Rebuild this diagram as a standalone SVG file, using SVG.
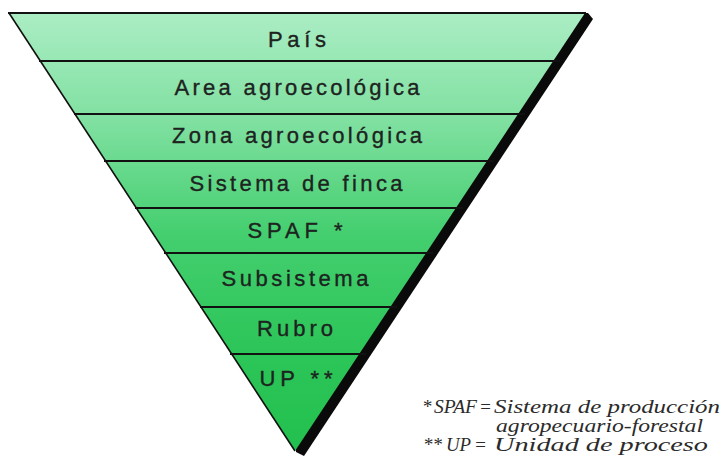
<svg xmlns="http://www.w3.org/2000/svg" width="722" height="456" viewBox="0 0 722 456">
  <defs>
    <!-- shared fill running from pale mint at the top to deep green at the apex -->
    <linearGradient id="greenFade" gradientUnits="userSpaceOnUse" x1="0" y1="13" x2="0" y2="451">
      <stop offset="0" stop-color="#abedc4"/>
      <stop offset="0.25" stop-color="#7fe0a0"/>
      <stop offset="0.5" stop-color="#45cf70"/>
      <stop offset="0.75" stop-color="#2ec65a"/>
      <stop offset="1" stop-color="#22c04e"/>
    </linearGradient>
    <style>
      .band { fill: url(#greenFade); }
      .rule { stroke: #111; stroke-width: 2; fill: none; }
      .edge { stroke: #111; stroke-width: 1.6; fill: none; stroke-linejoin: round; }
      .lbl { font-family: "Liberation Sans", Arial, sans-serif; font-size: 22px; fill: #1d231f; stroke: #1d231f; stroke-width: 0.35px; text-anchor: middle; }
      .note { font-family: "Liberation Serif", "Times New Roman", serif; font-style: italic; font-size: 19px; fill: #2b2b2b; }
    </style>
  </defs>

  <rect width="722" height="456" fill="#ffffff"/>

  <!-- drop shadow along the right side of the funnel -->
  <polygon points="300,13 588,13 593,19 304,456 296,452" fill="#0a0a0a"/>

  <!-- funnel levels, widest at the top -->
  <g id="nivel-pais">
    <polygon class="band" points="9,13 585,13 553.2,61 40.3,61"/>
    <text class="lbl" x="297" y="47" textLength="58">País</text>
  </g>
  <g id="nivel-area">
    <polygon class="band" points="40.3,61 553.2,61 518.1,114 75,114"/>
    <text class="lbl" x="297" y="95" textLength="245">Area agroecológica</text>
  </g>
  <g id="nivel-zona">
    <polygon class="band" points="75,114 518.1,114 487,161 105.6,161"/>
    <text class="lbl" x="297" y="143" textLength="250">Zona agroecológica</text>
  </g>
  <g id="nivel-finca">
    <polygon class="band" points="105.6,161 487,161 455.9,208 136.3,208"/>
    <text class="lbl" x="296" y="191" textLength="213">Sistema de finca</text>
  </g>
  <g id="nivel-spaf">
    <polygon class="band" points="136.3,208 455.9,208 426.1,253 165.7,253"/>
    <text class="lbl" x="295" y="238" textLength="95">SPAF *</text>
  </g>
  <g id="nivel-subsistema">
    <polygon class="band" points="165.7,253 426.1,253 390.3,307 201,307"/>
    <text class="lbl" x="295" y="286" textLength="147">Subsistema</text>
  </g>
  <g id="nivel-rubro">
    <polygon class="band" points="201,307 390.3,307 359.2,354 231.7,354"/>
    <text class="lbl" x="295" y="336" textLength="76">Rubro</text>
  </g>
  <g id="nivel-up">
    <polygon class="band" points="231.7,354 359.2,354 295,451"/>
    <text class="lbl" x="296" y="386" textLength="73">UP **</text>
  </g>

  <!-- level dividers and outline -->
  <g id="connectors">
    <line class="rule" x1="8" y1="13" x2="586" y2="13"/>
    <line class="rule" x1="39" y1="61" x2="560" y2="61"/>
    <line class="rule" x1="74" y1="114" x2="525" y2="114"/>
    <line class="rule" x1="104" y1="161" x2="494" y2="161"/>
    <line class="rule" x1="135" y1="208" x2="463" y2="208"/>
    <line class="rule" x1="164" y1="253" x2="433" y2="253"/>
    <line class="rule" x1="200" y1="307" x2="397" y2="307"/>
    <line class="rule" x1="230" y1="354" x2="366" y2="354"/>
    <polyline class="edge" points="9,13 295,451"/>
  </g>

  <!-- footnotes -->
  <g id="notas">
    <text class="note" x="422" y="413">*</text>
    <text class="note" x="434" y="413" textLength="43" lengthAdjust="spacingAndGlyphs">SPAF</text>
    <text class="note" x="479" y="413">=</text>
    <text class="note" x="494" y="413" textLength="226" lengthAdjust="spacingAndGlyphs">Sistema de producción</text>
    <text class="note" x="496" y="432" textLength="207" lengthAdjust="spacingAndGlyphs">agropecuario-forestal</text>
    <text class="note" x="423" y="451">**</text>
    <text class="note" x="446" y="451" textLength="25" lengthAdjust="spacingAndGlyphs">UP</text>
    <text class="note" x="474" y="451">=</text>
    <text class="note" x="494" y="451" textLength="214" lengthAdjust="spacingAndGlyphs">Unidad de proceso</text>
  </g>
</svg>
